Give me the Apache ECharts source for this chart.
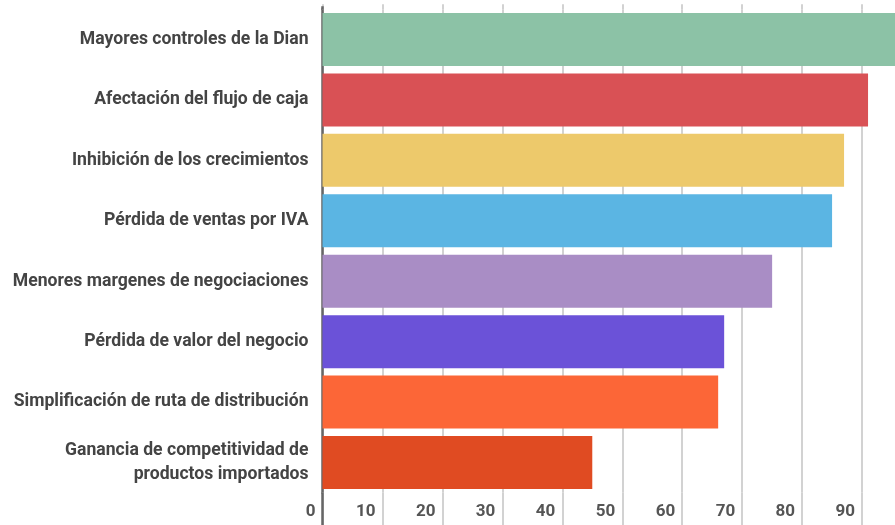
<!DOCTYPE html>
<html>
<head>
<meta charset="utf-8">
<script src="https://cdn.jsdelivr.net/npm/echarts@6/dist/echarts.min.js"></script>
<style>
html,body{margin:0;padding:0;background:#fff;}
#chart{width:895px;height:525px;}
</style>
</head>
<body>
<div id="chart"></div>
<script>
const categories = [
  'Mayores controles de la Dian',
  'Afectación del flujo de caja',
  'Inhibición de los crecimientos',
  'Pérdida de ventas por IVA',
  'Menores margenes de negociaciones',
  'Pérdida de valor del negocio',
  'Simplificación de ruta de distribución',
  'Ganancia de competitividad de\nproductos importados'
];
const values = [98, 91, 87, 85, 75, 67, 66, 45];
const colors = ['#8CC2A6', '#D95155', '#EDC96B', '#5BB5E3', '#A98DC5', '#6B52D8', '#FC6637', '#E04B22'];
const xTicks = [0, 10, 20, 30, 40, 50, 60, 70, 80, 90, 100];

const gridColor = '#d2d2d2';
const axisColor = '#666666';
const chart = echarts.init(document.getElementById('chart'));
const font = 'Roboto, "Noto Sans", sans-serif';

chart.setOption({
  animation: false,
  grid: { left: 322.5, width: 599.5, top: 9.3, height: 483.4, containLabel: false, outerBoundsMode: 'none' },
  xAxis: [
    {
      type: 'value', min: xTicks[0], max: xTicks[xTicks.length - 1], interval: 10, position: 'bottom',
      axisLine: { show: false },
      axisTick: { show: true, inside: false, length: 33, lineStyle: { color: gridColor, width: 2 } },
      splitLine: { show: true, lineStyle: { color: gridColor, width: 2 } },
      axisLabel: {
        show: true, align: 'right', padding: [0, 7, 0, 0], margin: 11,
        color: '#555', fontSize: 17, fontWeight: 'bold', fontFamily: font,
        formatter: v => (v === 100 ? '' : String(v))
      }
    },
    {
      type: 'value', min: 0, max: 100, interval: 10, position: 'top',
      axisLine: { show: false },
      axisTick: { show: true, inside: false, length: 5, lineStyle: { color: gridColor, width: 2 } },
      splitLine: { show: false }, axisLabel: { show: false }
    },
    {
      type: 'value', min: 0, max: 100, position: 'bottom',
      axisLine: { show: false },
      axisTick: { show: true, inside: false, length: 33, customValues: [0], lineStyle: { color: axisColor, width: 2.5 } },
      splitLine: { show: false }, axisLabel: { show: false }
    },
    {
      type: 'value', min: 0, max: 100, position: 'top',
      axisLine: { show: false },
      axisTick: { show: true, inside: false, length: 3, customValues: [0], lineStyle: { color: axisColor, width: 2.5 } },
      splitLine: { show: false }, axisLabel: { show: false }
    }
  ],
  yAxis: {
    type: 'category', data: categories, inverse: true,
    axisLine: { show: true, lineStyle: { color: axisColor, width: 2.5 } },
    axisTick: { show: false },
    axisLabel: {
      margin: 14, color: '#444', fontSize: 17.6, fontWeight: 'bold', fontFamily: font,
      lineHeight: 23.5, align: 'right'
    }
  },
  series: [{
    type: 'bar', xAxisIndex: 0,
    data: values.map((v, i) => ({ value: v, itemStyle: { color: colors[i] } })),
    barWidth: 53
  }]
});
</script>
</body>
</html>
